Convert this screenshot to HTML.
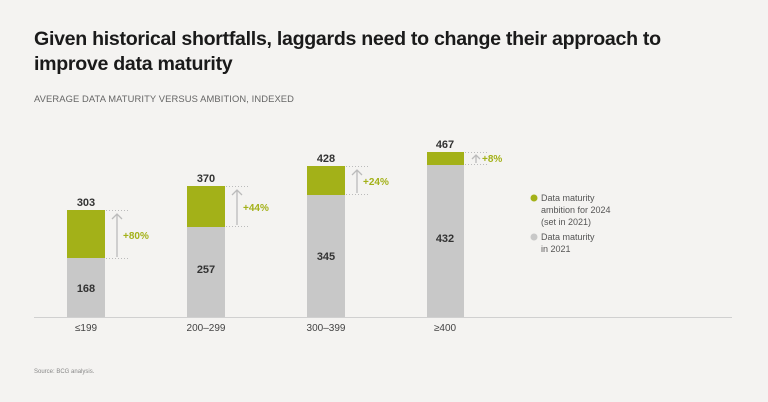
<!DOCTYPE html>
<html><head><style>
body{margin:0;width:768px;height:402px;background:#f4f3f1;font-family:"Liberation Sans",sans-serif;position:relative;overflow:hidden}
.t{position:absolute;left:34px;top:27px;font-size:19.6px;font-weight:bold;color:#1a1a1a;line-height:25px;letter-spacing:-0.3px}
.s{position:absolute;left:34px;top:93px;font-size:9.4px;color:#666;letter-spacing:0.1px}
.src{position:absolute;left:34px;top:369px;font-size:6px;color:#888}
</style></head><body>
<div class="t">Given historical shortfalls, laggards need to change their approach to<br>improve data maturity</div>
<div class="s">AVERAGE DATA MATURITY VERSUS AMBITION, INDEXED</div>
<div class="src">Source: BCG analysis.</div>
<svg width="768" height="402" style="position:absolute;left:0;top:0" font-family="Liberation Sans, sans-serif">
<line x1="34" y1="317.5" x2="732" y2="317.5" stroke="#d0d0d0" stroke-width="1"/>
<g font-size="11" font-weight="bold" fill="#333" text-anchor="middle">
<rect x="67" y="258" width="38" height="59" fill="#c8c8c8"/><rect x="67" y="210" width="38" height="48" fill="#a3b118"/>
<text x="86" y="206">303</text><text x="86" y="292">168</text>
<rect x="187" y="227" width="38" height="90" fill="#c8c8c8"/><rect x="187" y="186" width="38" height="41" fill="#a3b118"/>
<text x="206" y="182">370</text><text x="206" y="273">257</text>
<rect x="307" y="195" width="38" height="122" fill="#c8c8c8"/><rect x="307" y="166" width="38" height="29" fill="#a3b118"/>
<text x="326" y="162">428</text><text x="326" y="260">345</text>
<rect x="427" y="165" width="37" height="152" fill="#c8c8c8"/><rect x="427" y="152" width="37" height="13" fill="#a3b118"/>
<text x="445" y="148">467</text><text x="445" y="242">432</text>
</g>
<g stroke="#bbb" stroke-width="1" stroke-dasharray="1,2" fill="none">
<line x1="106" y1="210.5" x2="130" y2="210.5"/><line x1="106" y1="258.5" x2="130" y2="258.5"/>
<line x1="226" y1="186.5" x2="250" y2="186.5"/><line x1="226" y1="226.5" x2="250" y2="226.5"/>
<line x1="346" y1="166.5" x2="370" y2="166.5"/><line x1="346" y1="194.5" x2="370" y2="194.5"/>
<line x1="465" y1="152.5" x2="489" y2="152.5"/><line x1="465" y1="164.5" x2="489" y2="164.5"/>
</g>
<g stroke="#bbb" stroke-width="1.3" fill="none">
<path d="M117 257V214M112 219L117 214L122 219"/>
<path d="M237 225V190M232 195L237 190L242 195"/>
<path d="M357 193V170M352 175L357 170L362 175"/>
<path d="M476 163V155M472 159L476 155L480 159"/>
</g>
<g font-size="10" font-weight="bold" fill="#a3b118">
<text x="123" y="239">+80%</text><text x="243" y="211">+44%</text><text x="363" y="185">+24%</text><text x="482" y="162">+8%</text>
</g>
<g font-size="10" fill="#444" text-anchor="middle">
<text x="86" y="331">≤199</text><text x="206" y="331">200–299</text><text x="326" y="331">300–399</text><text x="445" y="331">≥400</text>
</g>
<circle cx="534" cy="198" r="3.5" fill="#a3b118"/><circle cx="534" cy="237" r="3.5" fill="#c8c8c8"/>
<g font-size="9" fill="#555">
<text x="541" y="201">Data maturity</text><text x="541" y="213">ambition for 2024</text><text x="541" y="225">(set in 2021)</text>
<text x="541" y="240">Data maturity</text><text x="541" y="252">in 2021</text>
</g>
</svg>
</body></html>
